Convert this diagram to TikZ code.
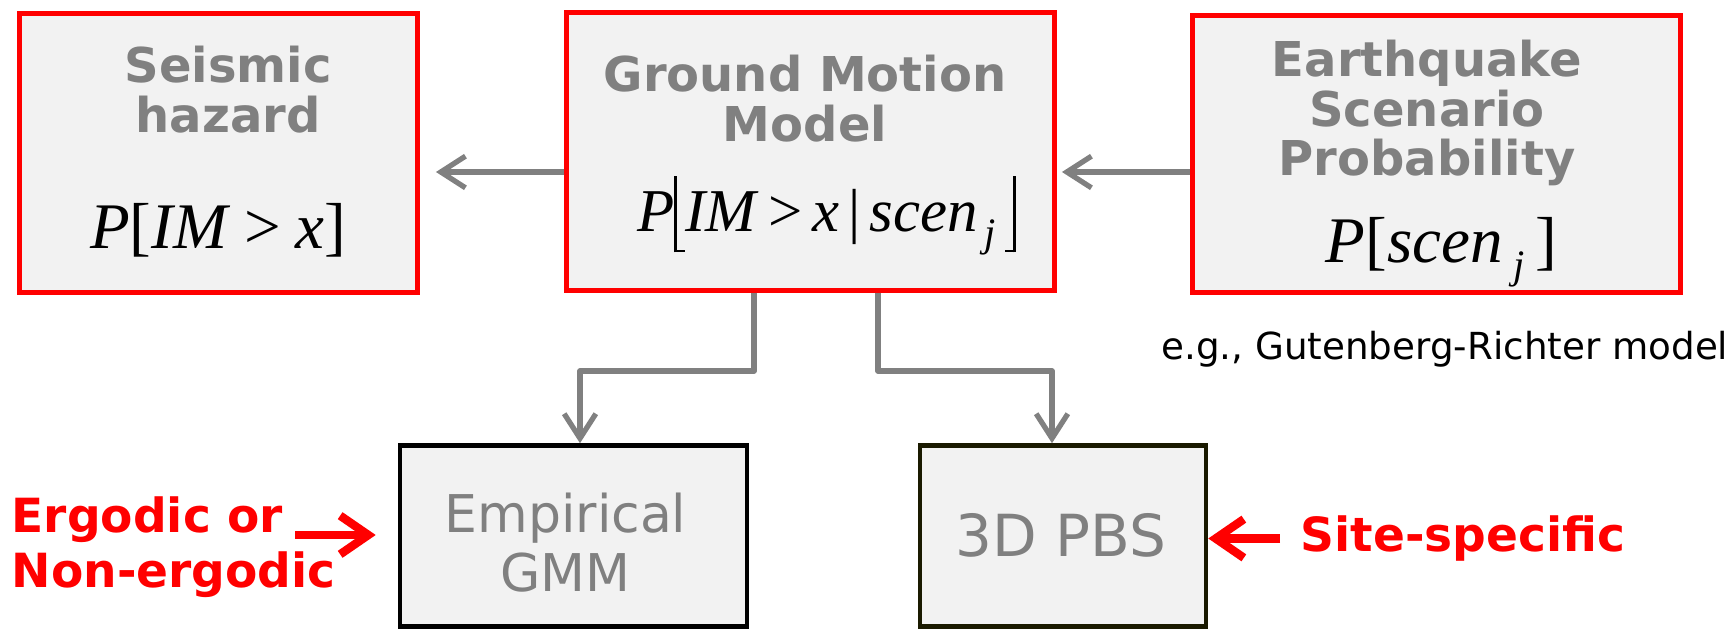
\documentclass[tikz,border=0pt]{standalone}
\usepackage{fontspec}
\setmainfont{DejaVu Sans}
\newfontfamily\eqfont{Liberation Serif}
\usetikzlibrary{arrows.meta,positioning}

\definecolor{boxgray}{HTML}{F2F2F2}
\definecolor{labelgray}{HTML}{808080}
\definecolor{darkolive}{HTML}{1A1A00}

% floor brackets and subscript j, drawn by hand
\newcommand{\lflr}{\rule[-0.34em]{0.045em}{1.25em}\rule[-0.34em]{0.13em}{0.045em}}
\newcommand{\rflr}{\rule[-0.34em]{0.13em}{0.045em}\rule[-0.34em]{0.045em}{1.25em}}
\newcommand{\subj}{\raisebox{-0.25em}{\fontsize{11.5}{12}\selectfont\itshape j}}

\begin{document}
\begin{tikzpicture}[
    probbox/.style={draw=red, line width=1.4pt, fill=boxgray, inner sep=0pt,
                    minimum width=4.88cm, minimum height=2.78cm},
    modelbox/.style={draw=black, line width=1.3pt, fill=boxgray, inner sep=0pt,
                     minimum height=1.81cm},
    heading/.style={text=labelgray, font=\fontsize{13.66}{14.2}\selectfont\bfseries,
                    align=center, inner sep=0pt},
    eqn/.style={font=\eqfont\fontsize{18.5}{22}\selectfont, inner sep=0pt},
    modeltext/.style={text=labelgray, align=center, inner sep=0pt},
    note/.style={text=red, font=\fontsize{13.4}{15.6}\selectfont\bfseries, inner sep=0pt},
    flow/.style={draw=labelgray, line width=1.5pt, line join=round,
                 -{Straight Barb[length=7pt,width=9pt]}},
    pointer/.style={draw=red, line width=2.4pt, -{Straight Barb[length=8pt,width=11pt]}}
  ]
  \useasboundingbox (0,0) rectangle (17.34,6.29);

  % top row
  \node[probbox, minimum width=3.98cm, minimum height=2.79cm] (hazard) at (2.185,4.76) {};
  \node[probbox] (gmm) at (8.105,4.775) {};
  \node[probbox, minimum height=2.77cm] (scen) at (14.365,4.75) {};

  \node[heading] (hazardtitle) at (2.28,5.39) {Seismic\\hazard};
  \node[heading] (gmmtitle) at (8.05,5.305) {Ground Motion\\Model};
  \node[heading] (scentitle) at (14.27,5.16) {Earthquake\\Scenario\\Probability};

  \node[eqn] (hazardeq) at (2.18,3.99)
    {\textit{P}[\textit{IM}\hspace{0.22em}>\hspace{0.22em}\textit{x}]};
  \node[eqn, font=\eqfont\fontsize{17.3}{21}\selectfont] (gmmeq) at (8.265,4.13)
    {\textit{P}\lflr\textit{IM}\hspace{0.16em}>\hspace{0.16em}\textit{x}\hspace{0.14em}|\hspace{0.16em}\textit{scen}\hspace{0.1em}\subj\hspace{0.16em}\rflr};
  \node[eqn] (sceneq) at (14.415,3.77) {\textit{P}[\textit{scen}\,\subj\,]};

  \node[anchor=base east, inner sep=0pt, font=\fontsize{10.6}{12}\selectfont] (grnote)
    at (17.29,2.69) {e.g., Gutenberg-Richter model};

  % bottom row
  \node[modelbox, minimum width=3.47cm] (empirical) at (5.735,0.93) {};
  \node[modelbox, draw=darkolive, minimum width=2.86cm] (pbs) at (10.63,0.93) {};
  \node[modeltext, font=\fontsize{14.8}{16.8}\selectfont] (empiricaltext) at (5.655,0.865)
    {Empirical\\GMM};
  \node[modeltext, font=\fontsize{16.5}{18}\selectfont] (pbstext) at (10.61,0.935) {3D PBS};

  \node[note, align=left, anchor=west] (ergodic) at (0.11,0.82) {Ergodic or\\Non-ergodic};
  \node[note, anchor=west] (site) at (13.00,0.905) {Site-specific};

  % connectors
  \coordinate (level) at (0,4.57);
  \draw[flow, shorten >=1.6mm] (gmm.west |- level) -- (hazard.east |- level);
  \draw[flow, shorten >=0.5mm] (scen.west |- level) -- (gmm.east |- level);
  \draw[flow] ([xshift=-5.65mm]gmm.south) -- ++(0,-0.78) -| ([xshift=0.65mm]empirical.north);
  \draw[flow] ([xshift=6.75mm]gmm.south) -- ++(0,-0.78) -| ([xshift=-1.1mm]pbs.north);

  \coordinate (ergotail) at (2.95,0.94);
  \draw[pointer, shorten >=2.2mm] (ergotail) -- (empirical.west |- ergotail);
  \draw[pointer] ([xshift=-2mm]site.west) -- (pbs.east |- site.west);
\end{tikzpicture}
\end{document}
